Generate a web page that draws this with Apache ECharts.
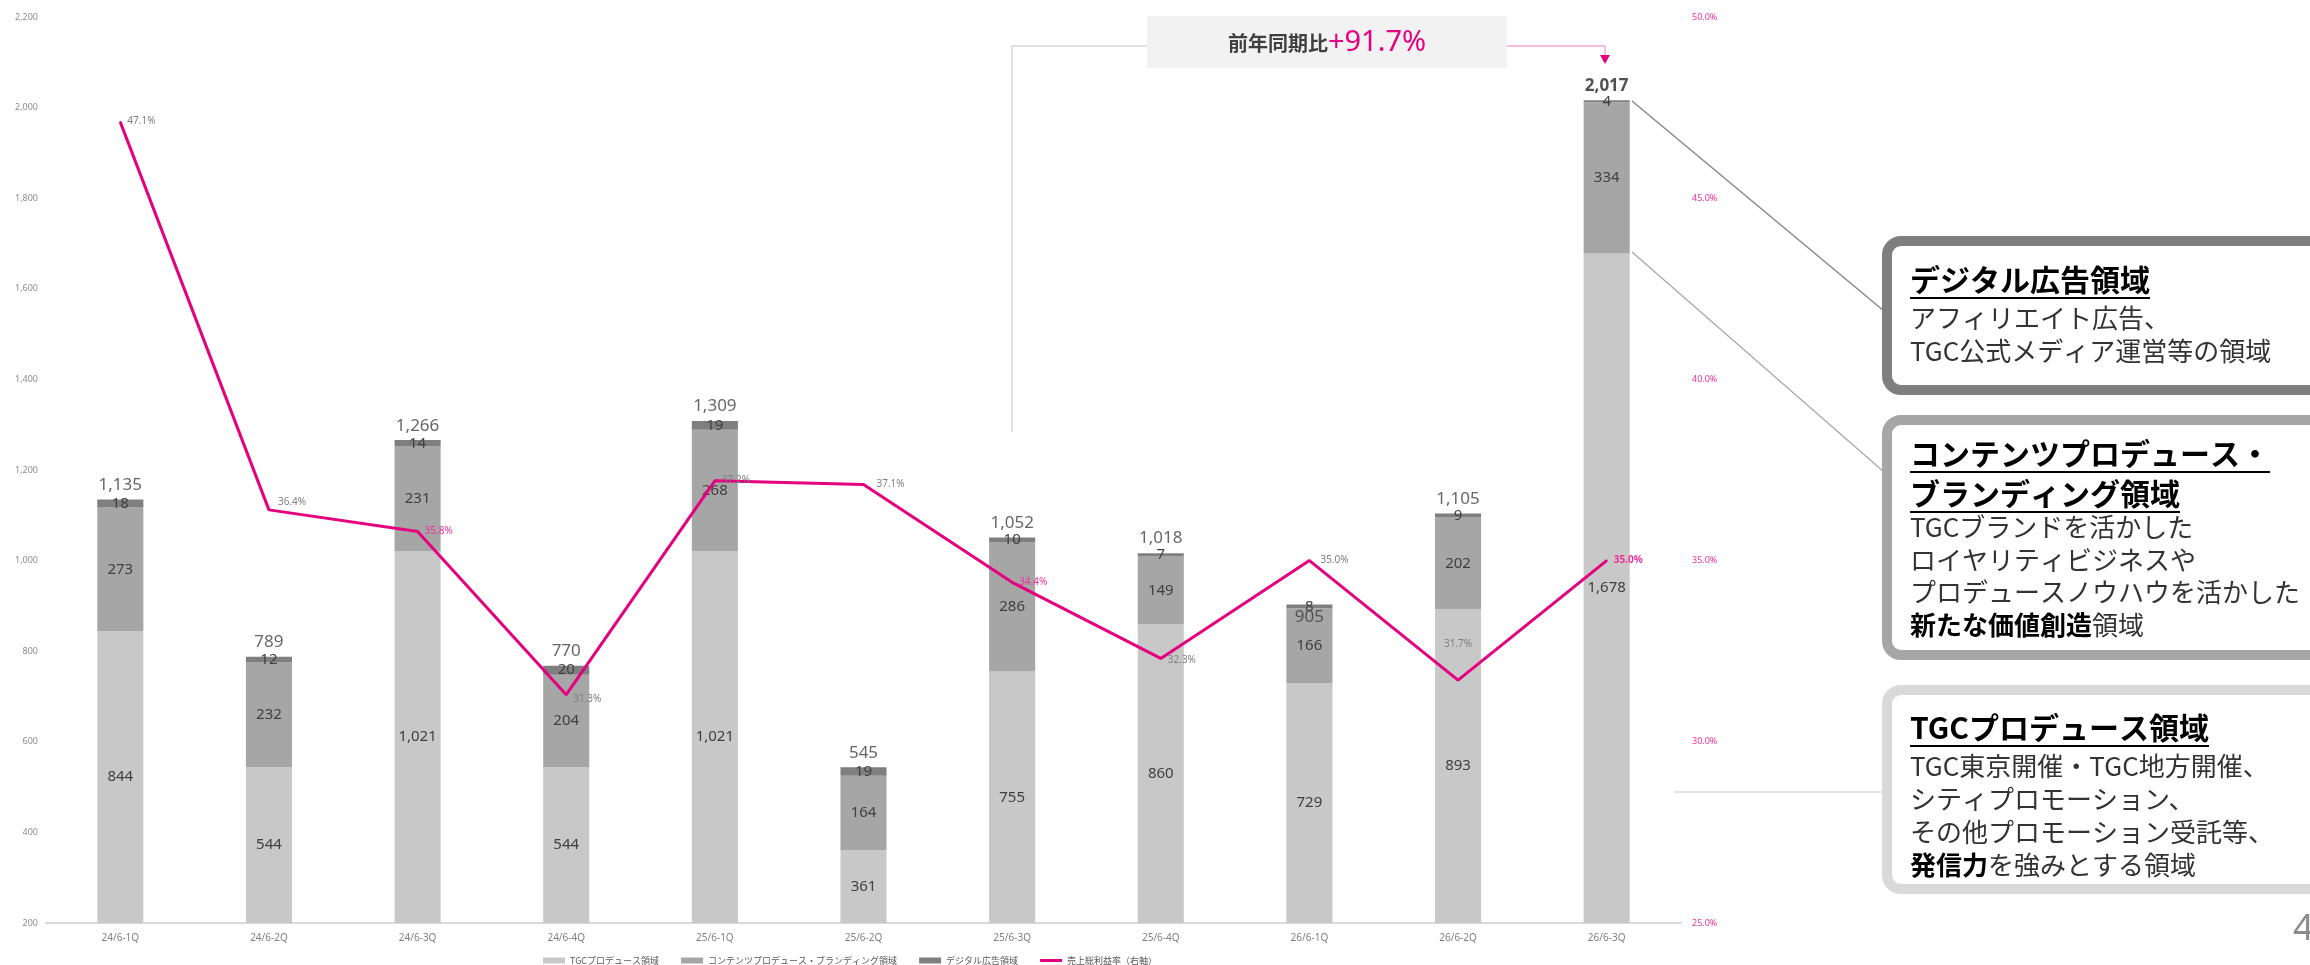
<!DOCTYPE html>
<html>
<head>
<meta charset="utf-8">
<script src="https://cdn.jsdelivr.net/npm/echarts@6/dist/echarts.min.js"></script>
<style>
  html, body { margin: 0; padding: 0; background: #fff; }
  #chart { width: 2310px; height: 965px; }
</style>
</head>
<body>
<div id="chart"></div>
<script>
// data
var quarters = ['24/6-1Q', '24/6-2Q', '24/6-3Q', '24/6-4Q', '25/6-1Q', '25/6-2Q', '25/6-3Q', '25/6-4Q', '26/6-1Q', '26/6-2Q', '26/6-3Q'];
var tgcProduce = [844, 544, 1021, 544, 1021, 361, 755, 860, 729, 893, 1678];
var contentsBranding = [273, 232, 231, 204, 268, 164, 286, 149, 166, 202, 334];
var digitalAd = [18, 12, 14, 20, 19, 19, 10, 7, 8, 9, 4];
var salesTotal = [1135, 789, 1266, 770, 1309, 545, 1052, 1018, 905, 1105, 2017];
var grossMargin = [47.1, 36.4, 35.8, 31.3, 37.2, 37.1, 34.4, 32.3, 35.0, 31.7, 35.0];
var leftTicks = [200, 400, 600, 800, 1000, 1200, 1400, 1600, 1800, 2000, 2200];
var rightTicks = [25, 30, 35, 40, 45, 50];
var seriesNames = ['TGCプロデュース領域', 'コンテンツプロデュース・ブランディング領域', 'デジタル広告領域', '売上総利益率（右軸）'];

var NUM_FONT = '"Noto Sans", "Open Sans", sans-serif';
var JP_FONT = '"Noto Sans CJK JP", "Noto Sans", sans-serif';
var PINK = '#e4007f';

function fmt(v) { return v.toLocaleString('en-US'); }

var chart = echarts.init(document.getElementById('chart'));

// per point label tweaks for the margin line
var marginLabelTweak = {
  0: { offset: [0, -1] },
  1: { offset: [2, -8] },
  2: { color: '#f0309a' },
  3: { offset: [0, 4] },
  4: { offset: [0, -1] },
  5: { offset: [6, 0] },
  6: { color: '#f0309a' },
  7: { offset: [0, 2] },
  8: { offset: [4, 0] },
  9: { position: 'top', distance: 30 },
  10: { color: '#f0309a', fontWeight: 'bold' }
};

var marginData = grossMargin.map(function (v, i) {
  return { value: v, label: marginLabelTweak[i] || {} };
});

var totalData = salesTotal.map(function (v, i) {
  var item = { value: v };
  if (i === 8) item.label = { position: 'bottom', distance: 5 };
  if (i === salesTotal.length - 1) item.label = { fontWeight: 'bold', color: '#262626' };
  return item;
});

function segLabel() {
  return {
    show: true,
    position: 'inside',
    color: '#404040',
    fontSize: 15,
    fontFamily: NUM_FONT,
    formatter: function (p) { return fmt(p.value); }
  };
}

// measure text for underlines
var measureCtx = document.createElement('canvas').getContext('2d');
function textWidth(str, font) {
  measureCtx.font = font;
  return measureCtx.measureText(str).width;
}

var TITLE_FONT = 'bold 30px ' + JP_FONT;
var BODY_SIZE = 26;
var textX = 1910;

function titleLine(str, y) {
  var w = textWidth(str, TITLE_FONT);
  return [
    { type: 'text', z: 20, style: { text: str, x: textX, y: y, font: TITLE_FONT, fill: '#000', verticalAlign: 'middle' } },
    { type: 'line', z: 20, shape: { x1: textX, y1: y + 18, x2: textX + w, y2: y + 18 }, style: { stroke: '#000', lineWidth: 2 } }
  ];
}
function bodyLine(str, y) {
  return {
    type: 'text', z: 20,
    style: {
      text: str, x: textX, y: y, verticalAlign: 'middle',
      fontSize: BODY_SIZE, fontFamily: JP_FONT, fill: '#333',
      rich: { b: { fontSize: BODY_SIZE, fontFamily: JP_FONT, fontWeight: 'bold', fill: '#000' } }
    }
  };
}
function box(y1, y2, color) {
  return {
    type: 'rect', z: 10,
    shape: { x: 1887, y: y1 + 5, width: 520, height: y2 - y1 - 10, r: 14 },
    style: { fill: '#fff', stroke: color, lineWidth: 10 }
  };
}

var graphics = [
  // connectors
  { type: 'line', z: 9, shape: { x1: 1632, y1: 101, x2: 1884, y2: 311 }, style: { stroke: '#7f7f7f', lineWidth: 1.2 } },
  { type: 'line', z: 9, shape: { x1: 1632, y1: 252, x2: 1884, y2: 472 }, style: { stroke: '#a6a6a6', lineWidth: 1.2 } },
  { type: 'line', z: 9, shape: { x1: 1675, y1: 792, x2: 1884, y2: 792 }, style: { stroke: '#d9d9d9', lineWidth: 1.5 } },
  box(236, 395, '#7f7f7f'),
  box(415, 660, '#a6a6a6'),
  box(685, 894, '#d9d9d9'),
  bodyLine('アフィリエイト広告、', 318),
  bodyLine('TGC公式メディア運営等の領域', 351),
  bodyLine('TGCブランドを活かした', 527),
  bodyLine('ロイヤリティビジネスや', 560),
  bodyLine('プロデュースノウハウを活かした', 592),
  bodyLine('{b|新たな価値創造}領域', 625),
  bodyLine('TGC東京開催・TGC地方開催、', 766),
  bodyLine('シティプロモーション、', 799),
  bodyLine('その他プロモーション受託等、', 832),
  bodyLine('{b|発信力}を強みとする領域', 865),
  // YoY callout
  { type: 'polyline', z: 9, shape: { points: [[1012, 432], [1012, 46], [1147, 46]] }, style: { stroke: '#d9d9d9', lineWidth: 1.5, fill: null } },
  { type: 'polyline', z: 9, shape: { points: [[1507, 46], [1605, 46], [1605, 56]] }, style: { stroke: '#f7a6d2', lineWidth: 1.5, fill: null } },
  { type: 'polygon', z: 9, shape: { points: [[1600, 55], [1610, 55], [1605, 64]] }, style: { fill: PINK } },
  { type: 'rect', z: 10, shape: { x: 1147, y: 16, width: 360, height: 52 }, style: { fill: '#f2f2f2' } },
  {
    type: 'text', z: 11,
    style: {
      text: '{a|前年同期比}{b|+91.7%}', x: 1327, y: 43, align: 'center', verticalAlign: 'middle',
      rich: {
        a: { fontSize: 20, fontWeight: 'bold', fontFamily: JP_FONT, fill: '#404040' },
        b: { fontSize: 29, fontFamily: NUM_FONT, fill: PINK }
      }
    }
  },
  // page number
  { type: 'text', z: 11, style: { text: '4', x: 2293, y: 930, verticalAlign: 'middle', fontSize: 36, fontFamily: NUM_FONT, fill: '#8c8c8c' } }
];
graphics = graphics.concat(titleLine('デジタル広告領域', 280));
graphics = graphics.concat(titleLine('コンテンツプロデュース・', 454));
graphics = graphics.concat(titleLine('ブランディング領域', 494));
graphics = graphics.concat(titleLine('TGCプロデュース領域', 728));

var option = {
  backgroundColor: '#fff',
  animation: false,
  textStyle: { fontFamily: NUM_FONT },
  grid: { left: 46, right: 629, top: 17, bottom: 42, containLabel: false },
  legend: {
    left: 538,
    top: 951,
    itemWidth: 22,
    itemHeight: 6,
    itemGap: 22,
    textStyle: { fontSize: 9, color: '#595959', fontFamily: JP_FONT },
    data: [
      { name: seriesNames[0], icon: 'rect' },
      { name: seriesNames[1], icon: 'rect' },
      { name: seriesNames[2], icon: 'rect' },
      { name: seriesNames[3], icon: 'path://M0,0 L22,0 L22,3 L0,3 Z', itemStyle: { color: PINK } }
    ]
  },
  xAxis: {
    type: 'category',
    data: quarters,
    axisLine: { lineStyle: { color: '#d9d9d9', width: 2 } },
    axisTick: { show: false },
    axisLabel: { color: '#7f7f7f', fontSize: 10, margin: 10, fontFamily: NUM_FONT }
  },
  yAxis: [
    {
      type: 'value',
      min: leftTicks[0],
      max: leftTicks[leftTicks.length - 1],
      interval: leftTicks[1] - leftTicks[0],
      axisLine: { show: false },
      axisTick: { show: false },
      splitLine: { show: false },
      axisLabel: { color: '#8c8c8c', fontSize: 9, margin: 8, formatter: function (v) { return fmt(v); } }
    },
    {
      type: 'value',
      min: rightTicks[0],
      max: rightTicks[rightTicks.length - 1],
      interval: rightTicks[1] - rightTicks[0],
      axisLine: { show: false },
      axisTick: { show: false },
      splitLine: { show: false },
      axisLabel: { color: '#f0309a', fontSize: 9, margin: 11, formatter: function (v) { return v.toFixed(1) + '%'; } }
    }
  ],
  series: [
    {
      name: seriesNames[0], type: 'bar', stack: 'sales', barWidth: '31%',
      itemStyle: { color: '#c8c8c8' },
      label: segLabel(),
      data: tgcProduce
    },
    {
      name: seriesNames[1], type: 'bar', stack: 'sales',
      itemStyle: { color: '#a6a6a6' },
      label: segLabel(),
      data: contentsBranding
    },
    {
      name: seriesNames[2], type: 'bar', stack: 'sales',
      itemStyle: { color: '#7f7f7f' },
      label: segLabel(),
      data: digitalAd
    },
    {
      name: 'total', type: 'scatter', symbolSize: 1, silent: true, z: 5,
      itemStyle: { color: 'rgba(0,0,0,0)' },
      label: {
        show: true, position: 'top', distance: 5, color: '#404040', fontSize: 17,
        fontFamily: NUM_FONT, formatter: function (p) { return fmt(p.value); }
      },
      data: totalData
    },
    {
      name: seriesNames[3], type: 'line', yAxisIndex: 1, symbol: 'circle', symbolSize: 2, showSymbol: true, z: 4,
      lineStyle: { color: PINK, width: 3 },
      itemStyle: { color: PINK },
      label: {
        show: true, position: 'right', distance: 6, color: '#7f7f7f', fontSize: 10,
        fontFamily: NUM_FONT, formatter: function (p) { return p.value.toFixed(1) + '%'; }
      },
      data: marginData
    }
  ],
  graphic: graphics
};

chart.setOption(option);
</script>
</body>
</html>
